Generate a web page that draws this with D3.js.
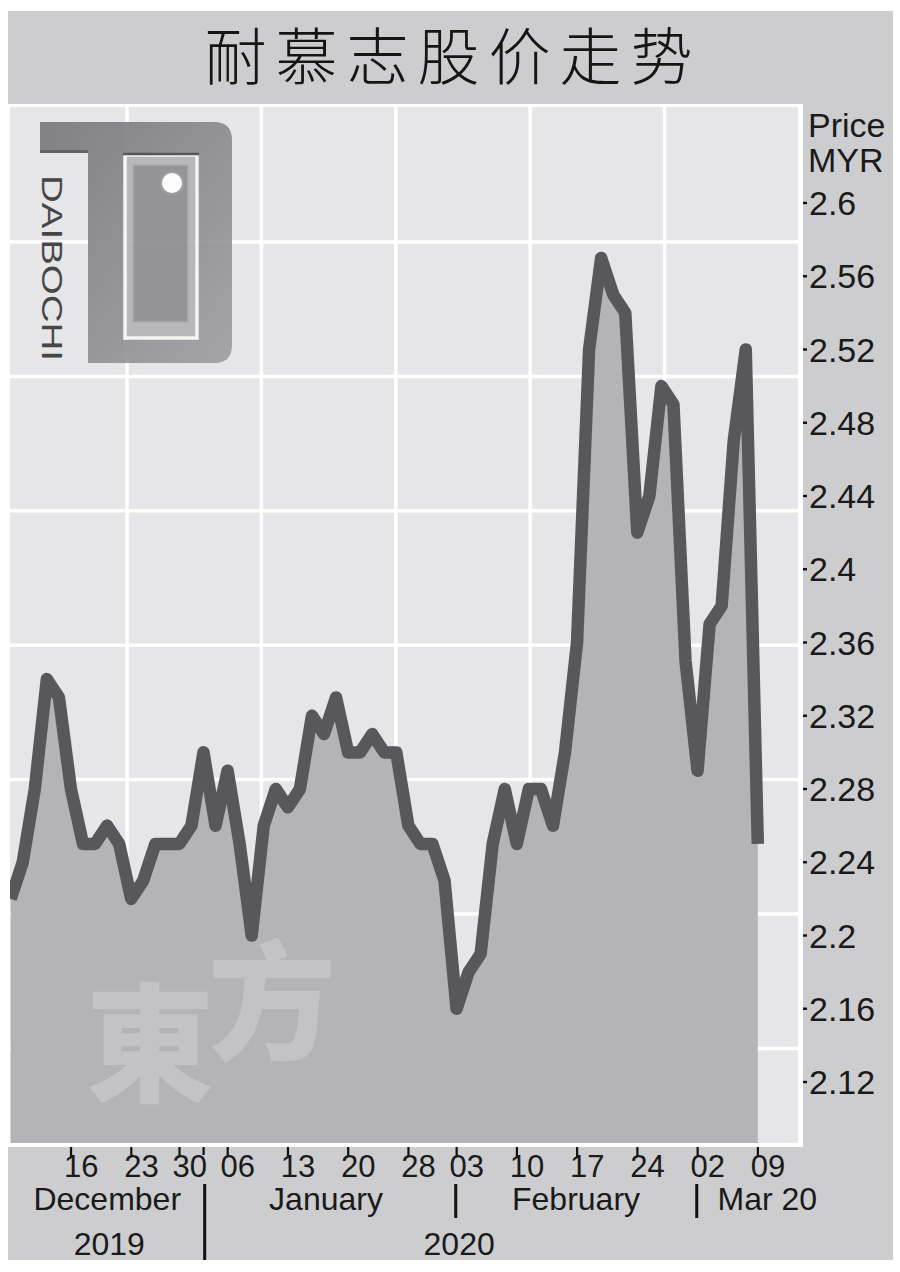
<!DOCTYPE html>
<html><head><meta charset="utf-8">
<script src="https://cdn.jsdelivr.net/npm/d3@7"></script>
<style>body{margin:0;background:#fff}svg{display:block}</style>
</head><body>
<svg id="c" width="900" height="1272"></svg>
<script>
// ---------- data ----------
const title = "耐慕志股价走势";
const dates = [
 "2019-12-09","2019-12-10","2019-12-11","2019-12-12","2019-12-13",
 "2019-12-16","2019-12-17","2019-12-18","2019-12-19","2019-12-20",
 "2019-12-23","2019-12-24","2019-12-26","2019-12-27",
 "2019-12-30","2019-12-31","2020-01-02","2020-01-03",
 "2020-01-06","2020-01-07","2020-01-08","2020-01-09","2020-01-10",
 "2020-01-13","2020-01-14","2020-01-15","2020-01-16","2020-01-17",
 "2020-01-20","2020-01-21","2020-01-22","2020-01-23","2020-01-24",
 "2020-01-28","2020-01-29","2020-01-30","2020-01-31",
 "2020-02-03","2020-02-04","2020-02-05","2020-02-06","2020-02-07",
 "2020-02-10","2020-02-11","2020-02-12","2020-02-13","2020-02-14",
 "2020-02-17","2020-02-18","2020-02-19","2020-02-20","2020-02-21",
 "2020-02-24","2020-02-25","2020-02-26","2020-02-27","2020-02-28",
 "2020-03-02","2020-03-03","2020-03-04","2020-03-05","2020-03-06",
 "2020-03-09"
];
const prices = [
 2.22,2.24,2.28,2.34,2.33,
 2.28,2.25,2.25,2.26,2.25,
 2.22,2.23,2.25,2.25,
 2.25,2.26,2.30,2.26,
 2.29,2.25,2.20,2.26,2.28,
 2.27,2.28,2.32,2.31,2.33,
 2.30,2.30,2.31,2.30,2.30,
 2.26,2.25,2.25,2.23,
 2.16,2.18,2.19,2.25,2.28,
 2.25,2.28,2.28,2.26,2.30,
 2.36,2.52,2.57,2.55,2.54,
 2.42,2.44,2.50,2.49,2.35,
 2.29,2.37,2.38,2.47,2.52,
 2.25
];
const yTicks = [2.12,2.16,2.2,2.24,2.28,2.32,2.36,2.4,2.44,2.48,2.52,2.56,2.6];
const yTickLabels = ["2.12","2.16","2.2","2.24","2.28","2.32","2.36","2.4","2.44","2.48","2.52","2.56","2.6"];
const xTickDates = ["2019-12-16","2019-12-23","2019-12-30","2020-01-06","2020-01-13","2020-01-20","2020-01-28","2020-02-03","2020-02-10","2020-02-17","2020-02-24","2020-03-02","2020-03-09"];
const xTickLabels = ["16","23","30","06","13","20","28","03","10","17","24","02","09"];
const monthLabels = ["December","January","February","Mar 20"];
const monthStarts = ["2019-12-09","2020-01-02","2020-02-03","2020-03-02"];
const yearLabels = ["2019","2020"];
const axisTitle = ["Price","MYR"];
const watermark = ["東","方"];
const logoText = "DAIBOCHI";

// ---------- layout ----------
const svg = d3.select("#c");
const FONT = "'Liberation Sans', Arial, Helvetica, sans-serif";
const P = {l:10, t:107, r:798, b:1143};

svg.append("rect").attr("x",8).attr("y",11).attr("width",885).attr("height",1249).attr("fill","#cdcdd0");

svg.append("text").attr("x",453).attr("y",80).attr("text-anchor","middle")
  .attr("font-family","'Noto Sans CJK SC'").attr("font-weight",300)
  .attr("font-size",62).attr("letter-spacing",9).attr("fill","#151515").text(title);

// plot backgrounds
svg.append("rect").attr("x",8).attr("y",104).attr("width",795).attr("height",1043).attr("fill","#ffffff");
svg.append("rect").attr("x",P.l).attr("y",P.t).attr("width",P.r-P.l).attr("height",P.b-P.t).attr("fill","#e6e6e8");

const defs = svg.append("defs");
defs.append("clipPath").attr("id","clip").append("rect")
  .attr("x",P.l).attr("y",P.t).attr("width",P.r-P.l).attr("height",P.b-P.t);

// lattice grid
const cell = 134.4;
const grid = svg.append("g").attr("stroke","#ffffff").attr("stroke-width",3.5).attr("clip-path","url(#clip)");
for (let gx = 127; gx < P.r - 5; gx += cell) grid.append("line").attr("x1",gx).attr("x2",gx).attr("y1",P.t).attr("y2",P.b);
for (let gy = 242; gy < P.b - 5; gy += cell) grid.append("line").attr("y1",gy).attr("y2",gy).attr("x1",P.l).attr("x2",P.r);

// logo
const grad = defs.append("linearGradient").attr("id","lg").attr("x1","0").attr("y1","0").attr("x2","1").attr("y2","1");
grad.append("stop").attr("offset","0").attr("stop-color","#7a7a7e");
grad.append("stop").attr("offset","1").attr("stop-color","#a0a0a4");
const logo = svg.append("g").attr("opacity",0.93);
logo.append("path").attr("d","M40,122 H214 Q232,122 232,140 V345 Q232,363 214,363 H88 V153 H40 Z").attr("fill","url(#lg)");
logo.append("rect").attr("x",40).attr("y",150).attr("width",48).attr("height",3).attr("fill","#5a5a5e");
logo.append("rect").attr("x",125).attr("y",155).attr("width",72).attr("height",183).attr("fill","#b4b4b8").attr("stroke","#f6f6f6").attr("stroke-width",3.5);
logo.append("line").attr("x1",123).attr("x2",199).attr("y1",154).attr("y2",154).attr("stroke","#4c4c50").attr("stroke-width",2.5);
logo.append("rect").attr("x",133).attr("y",165).attr("width",55).attr("height",157).attr("fill","#8e8e92").attr("stroke","#a8a8ac").attr("stroke-width",1.5);
logo.append("circle").attr("cx",172).attr("cy",183).attr("r",11).attr("fill","#ffffff").attr("stroke","#9a9a9e").attr("stroke-width",2);
logo.append("text").attr("transform","translate(42,175) rotate(90)")
  .attr("font-family",FONT).attr("font-size",30).attr("fill","#3a3a3e")
  .attr("textLength",186).attr("lengthAdjust","spacingAndGlyphs").text(logoText);

// scales
const x = d3.scalePoint().domain(dates).range([10.7, 757.8]);
const y = d3.scaleLinear().domain([2.12, 2.6]).range([1082, 203]);

const plot = svg.append("g").attr("clip-path","url(#clip)");
plot.append("path").datum(prices)
  .attr("d", d3.area().x((d,i)=>x(dates[i])).y0(P.b).y1(d=>y(d)))
  .attr("fill","#b4b4b8");

// watermark
plot.append("text").attr("x",86).attr("y",1092).attr("font-family","'Noto Sans CJK TC'").attr("font-weight",900)
  .attr("font-size",128).attr("fill","#ffffff").attr("fill-opacity",0.2).text(watermark[0]);
plot.append("text").attr("x",208).attr("y",1050).attr("font-family","'Noto Sans CJK TC'").attr("font-weight",900)
  .attr("font-size",128).attr("fill","#ffffff").attr("fill-opacity",0.2).text(watermark[1]);

plot.append("path").datum(prices)
  .attr("d", d3.line().x((d,i)=>x(dates[i])).y(d=>y(d)))
  .attr("fill","none").attr("stroke","#58585c").attr("stroke-width",12.5)
  .attr("stroke-linejoin","round");

// y axis (right)
const ya = svg.append("g").attr("font-family",FONT).attr("font-size",34).attr("fill","#1a1a1a");
ya.append("text").attr("x",808).attr("y",137).text(axisTitle[0]);
ya.append("text").attr("x",808).attr("y",172).text(axisTitle[1]);
yTicks.forEach((v,i)=>{
  ya.append("rect").attr("x",803).attr("y",y(v)-1.2).attr("width",4).attr("height",2.4).attr("fill","#111");
  ya.append("text").attr("x",809).attr("y",y(v)+12).text(yTickLabels[i]);
});

// x axis (bottom)
const xa = svg.append("g").attr("font-family",FONT).attr("font-size",31).attr("fill","#1a1a1a");
xTickDates.forEach((d,i)=>{
  const tx = x(d);
  xa.append("rect").attr("x",tx-1).attr("y",1147).attr("width",2.2).attr("height",10).attr("fill","#111");
  xa.append("text").attr("x",tx-7).attr("y",1177).text(xTickLabels[i]);
});
// month / year separators
const sepX = monthStarts.slice(1).map(d => x(d) - 1);
xa.append("rect").attr("x",x(monthStarts[1])-1).attr("y",1147).attr("width",2.2).attr("height",8).attr("fill","#111");
sepX.forEach((sx,i)=>{
  xa.append("rect").attr("x",sx-1.3+ (i===0?2:0)).attr("y",1184).attr("width",3)
    .attr("height", i===0 ? 76 : 34).attr("fill","#111");
});
const bounds = [P.l, sepX[0]+2, sepX[1], sepX[2]];
xa.append("text").attr("x",(bounds[0]+bounds[1])/2).attr("y",1210).attr("text-anchor","middle").attr("font-size",32).text(monthLabels[0]);
xa.append("text").attr("x",(bounds[1]+bounds[2])/2-4).attr("y",1210).attr("text-anchor","middle").attr("font-size",32).text(monthLabels[1]);
xa.append("text").attr("x",(bounds[2]+bounds[3])/2).attr("y",1210).attr("text-anchor","middle").attr("font-size",32).text(monthLabels[2]);
xa.append("text").attr("x",bounds[3]+21).attr("y",1210).attr("font-size",32).text(monthLabels[3]);
xa.append("text").attr("x",(bounds[0]+bounds[1])/2+2).attr("y",1255).attr("text-anchor","middle").attr("font-size",32).text(yearLabels[0]);
xa.append("text").attr("x",(bounds[1]+x(dates[dates.length-1]))/2-22).attr("y",1255).attr("text-anchor","middle").attr("font-size",32).text(yearLabels[1]);
</script>
</body></html>
